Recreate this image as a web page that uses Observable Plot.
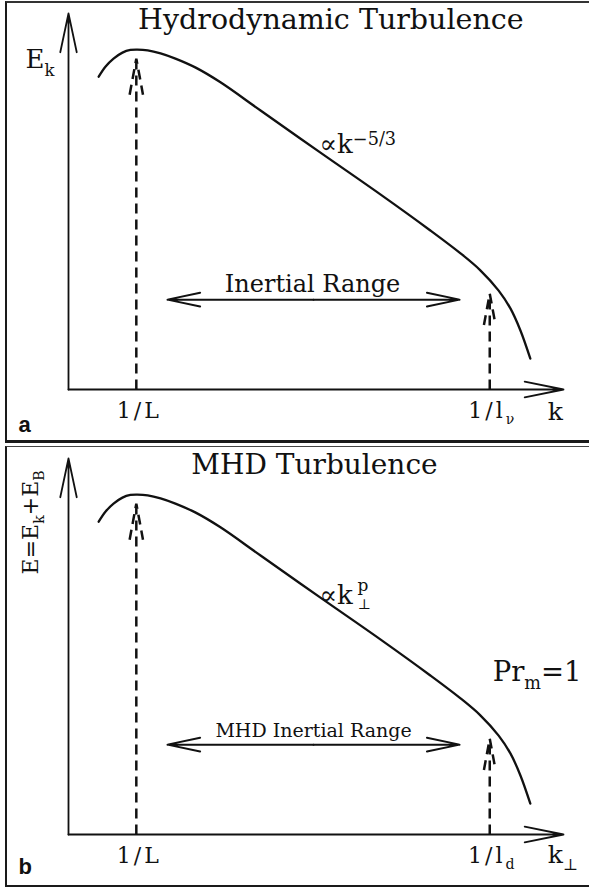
<!DOCTYPE html>
<html>
<head>
<meta charset="utf-8">
<script src="https://cdn.jsdelivr.net/npm/d3@7"></script>
<script src="https://cdn.jsdelivr.net/npm/@observablehq/plot@0.6"></script>
<style>
html,body{margin:0;padding:0;background:#fff;}
#wrap{position:relative;width:589px;height:887px;overflow:hidden;background:#fff;}
.box{position:absolute;left:5px;width:700px;box-sizing:border-box;border-style:solid;border-color:#1a1a1a;}
#boxA{top:1px;height:442px;border-width:2px 0 3px 2px;border-top-color:#333;}
#boxB{top:446px;height:441px;border-width:1px 0 2px 2px;border-top-color:#444;}
.panel{position:absolute;left:0;}
</style>
</head>
<body>
<div id="wrap"><div class="box" id="boxA"></div><div class="box" id="boxB"></div></div>
<script>
// ---- schematic spectrum (position along k axis, energy) ----
const specK = [0.061,0.075,0.091,0.109,0.125,0.139,0.160,0.186,0.216,0.257,0.307,0.388,0.509,0.630,0.731,0.792,0.832,0.869,0.893,0.913,0.933];
const specE = [0.832,0.859,0.880,0.896,0.903,0.904,0.902,0.894,0.880,0.856,0.817,0.742,0.630,0.519,0.423,0.362,0.317,0.263,0.215,0.157,0.082];
// characteristic scales: injection 1/L and dissipation scale
const scaleK = [0.137, 0.851];
const tipE = [0.880, 0.255];
const tickLabelsA = ["1/L", "1/l_{ν}"];
const tickLabelsB = ["1/L", "1/l_{d}"];
// inertial range extent
const rangeK = [0.200, 0.790];
const rangeE = 0.239;
const titles = ["Hydrodynamic Turbulence", "MHD Turbulence"];
const rangeLabels = ["Inertial Range", "MHD Inertial Range"];
const slopeLabels = ["∝k^{−5/3}", "∝k"];
const slopeIndex = ["p", "⊥"];
const axisLabels = ["k", "k_{⊥}"];
const yLabels = ["E_{k}", "E=E_{k}+E_{B}"];
const panelLetters = ["a", "b"];
const prandtl = "Pr_{m}=1";

const spectrum = specK.map((k, i) => ({k, E: specE[i]}));
const scales = scaleK.map((k, i) => ({k, tip: tipE[i]}));
const axes = [{x1: 0, y1: 0, x2: 0, y2: 1}, {x1: 0, y1: 0, x2: 1, y2: 0}];

const FONT = "DejaVu Serif";
const INK = "#111";

function baseMarks(tickLabels) {
  const tickMap = new Map(scaleK.map((k, i) => [k, tickLabels[i]]));
  const mid = (rangeK[0] + rangeK[1]) / 2;
  return [
    Plot.arrow(axes.slice(0, 1), {x1: "x1", y1: "y1", x2: "x2", y2: "y2", stroke: INK, strokeWidth: 1.8, headLength: 33, headAngle: 24}),
    Plot.arrow(axes.slice(1), {x1: "x1", y1: "y1", x2: "x2", y2: "y2", stroke: INK, strokeWidth: 1.8, headLength: 33, headAngle: 23}),
    Plot.arrow(scales, {x1: "k", y1: 0, x2: "k", y2: "tip", stroke: INK, strokeWidth: 2.5, strokeDasharray: "10,6", strokeLinecap: "butt", headLength: 22, headAngle: 21}),
    Plot.arrow(rangeK, {x1: mid, y1: rangeE, x2: d => d, y2: rangeE, stroke: INK, strokeWidth: 2, headLength: 25, headAngle: 24}),
    Plot.line(spectrum, {x: "k", y: "E", curve: "catmull-rom", stroke: INK, strokeWidth: 2.3}),
    Plot.axisX(scaleK, {tickSize: 0, tickPadding: 13, tickFormat: d => tickMap.get(d), fontSize: 22, fontFamily: FONT, fill: INK, dx: 3, label: null})
  ];
}

function richText(svg) {
  svg.querySelectorAll("text").forEach(t => {
    const s = t.textContent;
    if (!/[_^]\{/.test(s)) return;
    const fs = parseFloat(getComputedStyle(t).fontSize) || 16;
    const parts = [];
    const re = /([_^])\{([^}]*)\}|([^_^]+)/g;
    let m;
    while ((m = re.exec(s))) parts.push(m[3] !== undefined ? {type: "n", txt: m[3]} : {type: m[1], txt: m[2]});
    t.textContent = "";
    let shift = 0;
    parts.forEach(p => {
      const ts = document.createElementNS("http://www.w3.org/2000/svg", "tspan");
      const target = p.type === "_" ? 0.28 * fs : p.type === "^" ? -0.33 * fs : 0;
      if (target - shift !== 0) ts.setAttribute("dy", (target - shift).toFixed(2));
      shift = target;
      if (p.type !== "n") ts.setAttribute("font-size", ((p.type === "^" ? 0.68 : 0.64) * fs).toFixed(1));
      ts.textContent = p.txt;
      t.appendChild(ts);
    });
  });
}

function finish(svg) {
  svg.querySelectorAll('g[aria-label="x-axis tick label"]').forEach(g => g.setAttribute("letter-spacing", "3"));
  svg.querySelectorAll('g[aria-label="ylabel"]').forEach(g => g.setAttribute("letter-spacing", "3"));
  richText(svg);
}

const common = {
  width: 589,
  marginLeft: 68, marginRight: 26, marginTop: 13,
  x: {domain: [0, 1], label: null},
  y: {domain: [0, 1], axis: null, label: null},
  style: {background: "transparent", overflow: "visible"}
};

const plotA = Plot.plot({
  ...common,
  height: 444, marginBottom: 55,
  marks: [
    ...baseMarks(tickLabelsA),
    Plot.text([titles[0]], {x: 0.530, y: 0.960, text: d => d, fontSize: 28.5, fontFamily: FONT, fill: INK, textAnchor: "middle", lineAnchor: "bottom"}),
    Plot.text([yLabels[0]], {x: -0.087, y: 0.854, text: d => d, fontSize: 26, fontFamily: FONT, fill: INK, textAnchor: "start", lineAnchor: "bottom"}),
    Plot.text([slopeLabels[0]], {x: 0.507, y: 0.628, text: d => d, fontSize: 26, fontFamily: FONT, fill: INK, textAnchor: "start", lineAnchor: "bottom"}),
    Plot.text([rangeLabels[0]], {x: 0.493, y: 0.258, text: d => d, fontSize: 24, fontFamily: FONT, fill: INK, textAnchor: "middle", lineAnchor: "bottom"}),
    Plot.text([axisLabels[0]], {x: 0.968, y: -0.082, text: d => d, fontSize: 25, fontFamily: FONT, fill: INK, textAnchor: "start", lineAnchor: "bottom"}),
    Plot.text([panelLetters[0]], {x: -0.101, y: -0.114, text: d => d, fontSize: 22, fontWeight: "bold", fontFamily: "Liberation Sans, Arial, sans-serif", fill: INK, textAnchor: "start", lineAnchor: "bottom"})
  ]
});

const plotB = Plot.plot({
  ...common,
  height: 442, marginBottom: 53,
  marks: [
    ...baseMarks(tickLabelsB),
    Plot.text([titles[1]], {x: 0.497, y: 0.960, text: d => d, fontSize: 28, fontFamily: FONT, fill: INK, textAnchor: "middle", lineAnchor: "bottom"}),
    Plot.text([yLabels[1]], {x: -0.062, y: 0.830, text: d => d, rotate: -90, fontSize: 22, fontFamily: FONT, fill: INK, textAnchor: "middle", lineAnchor: "bottom", ariaLabel: "ylabel"}),
    Plot.text([slopeLabels[1]], {x: 0.507, y: 0.614, text: d => d, fontSize: 26, fontFamily: FONT, fill: INK, textAnchor: "start", lineAnchor: "bottom"}),
    Plot.text([slopeIndex[0]], {x: 0.507, y: 0.614, dx: 38, dy: -13, text: d => d, fontSize: 17, fontFamily: FONT, fill: INK, textAnchor: "start", lineAnchor: "bottom"}),
    Plot.text([slopeIndex[1]], {x: 0.507, y: 0.614, dx: 38, dy: 5, text: d => d, fontSize: 14, fontFamily: FONT, fill: INK, textAnchor: "start", lineAnchor: "bottom"}),
    Plot.text([rangeLabels[1]], {x: 0.495, y: 0.258, text: d => d, fontSize: 19, fontFamily: FONT, fill: INK, textAnchor: "middle", lineAnchor: "bottom"}),
    Plot.text([prandtl], {x: 0.857, y: 0.407, text: d => d, fontSize: 27.5, fontFamily: FONT, fill: INK, textAnchor: "start", lineAnchor: "bottom"}),
    Plot.text([axisLabels[1]], {x: 0.968, y: -0.077, text: d => d, fontSize: 25, fontFamily: FONT, fill: INK, textAnchor: "start", lineAnchor: "bottom"}),
    Plot.text([panelLetters[1]], {x: -0.101, y: -0.104, text: d => d, fontSize: 22, fontWeight: "bold", fontFamily: "Liberation Sans, Arial, sans-serif", fill: INK, textAnchor: "start", lineAnchor: "bottom"})
  ]
});

const wrap = document.getElementById("wrap");
plotA.classList.add("panel"); plotA.style.top = "0px";
plotB.classList.add("panel"); plotB.style.top = "445px";
wrap.appendChild(plotA);
wrap.appendChild(plotB);
finish(plotA);
finish(plotB);
</script>
</body>
</html>
